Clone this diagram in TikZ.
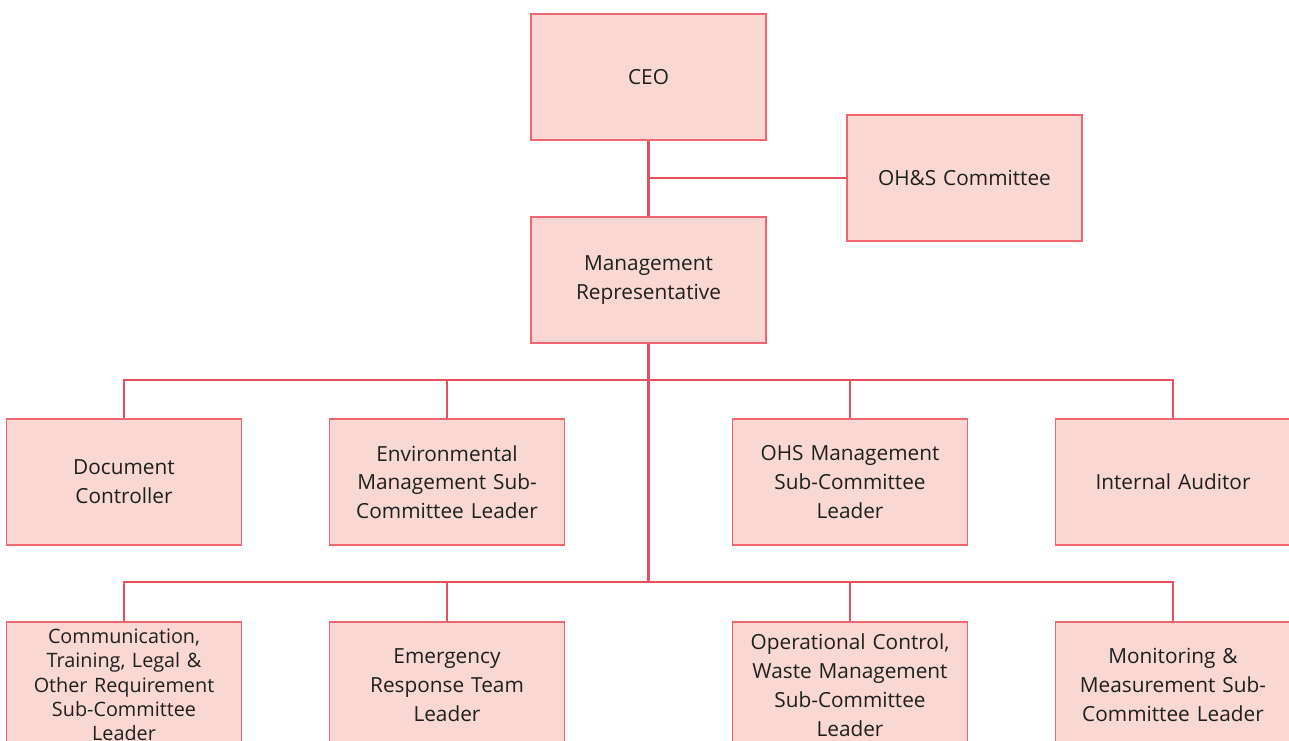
\documentclass[tikz,border=0pt]{standalone}
\usepackage{fontspec}
\setmainfont{Open Sans}
\definecolor{boxfill}{HTML}{F9D8D3}
\definecolor{boxline}{HTML}{EF6670}
\definecolor{wire}{HTML}{E8505B}
\begin{document}
\begin{tikzpicture}[x=1pt,y=-1pt,
  orgbox/.style={draw=boxline, line width=1.3pt, fill=boxfill,
    minimum width=235pt, minimum height=126pt, inner sep=0pt,
    align=center, text width=228pt, font=\fontsize{20.8}{28.8}\selectfont,
    text=black!88},
  smalltext/.style={font=\fontsize{19.8}{24.3}\selectfont},
  link/.style={draw=wire, line width=2.8pt}]
\useasboundingbox (0,0) rectangle (1289,740);
\clip (0,0) rectangle (1289,740);
% top of the chart
\node[orgbox] (ceo) at (648.5,77) {CEO};
\node[orgbox] (mr) at (648.5,280) {Management\\Representative};
\node[orgbox] (ohs) at (964.5,178) {OH\&S Committee};
% first row
\node[orgbox] (dc) at (124,482) {Document\\Controller};
\node[orgbox] (env) at (447,482) {Environmental\\Management Sub-\\Committee Leader};
\node[orgbox] (ohsm) at (850,482) {OHS Management\\Sub-Committee\\Leader};
\node[orgbox] (ia) at (1173,482) {Internal Auditor};
% second row
\node[orgbox, smalltext] (comm) at (124,685) {Communication,\\Training, Legal \&\\Other Requirement\\Sub-Committee\\Leader};
\node[orgbox] (ert) at (447,685) {Emergency\\Response Team\\Leader};
\node[orgbox] (opc) at (850,685) {Operational Control,\\Waste Management\\Sub-Committee\\Leader};
\node[orgbox] (mon) at (1173,685) {Monitoring \&\\Measurement Sub-\\Committee Leader};
% bus points
\coordinate (busA) at (648.5,380);
\coordinate (busB) at (648.5,582);
\coordinate (tap) at (648.5,178);
% connectors
\draw[link] (ceo.south) -- (mr.north);
\draw[link] (tap) -- (tap -| ohs.west);
\draw[link] (mr.south) -- (busB);
\draw[link] (dc.north) -- (dc.north |- busA) -- (ia.north |- busA) -- (ia.north);
\draw[link] (env.north) -- (env.north |- busA);
\draw[link] (ohsm.north) -- (ohsm.north |- busA);
\draw[link] (comm.north) -- (comm.north |- busB) -- (mon.north |- busB) -- (mon.north);
\draw[link] (ert.north) -- (ert.north |- busB);
\draw[link] (opc.north) -- (opc.north |- busB);
\end{tikzpicture}
\end{document}
